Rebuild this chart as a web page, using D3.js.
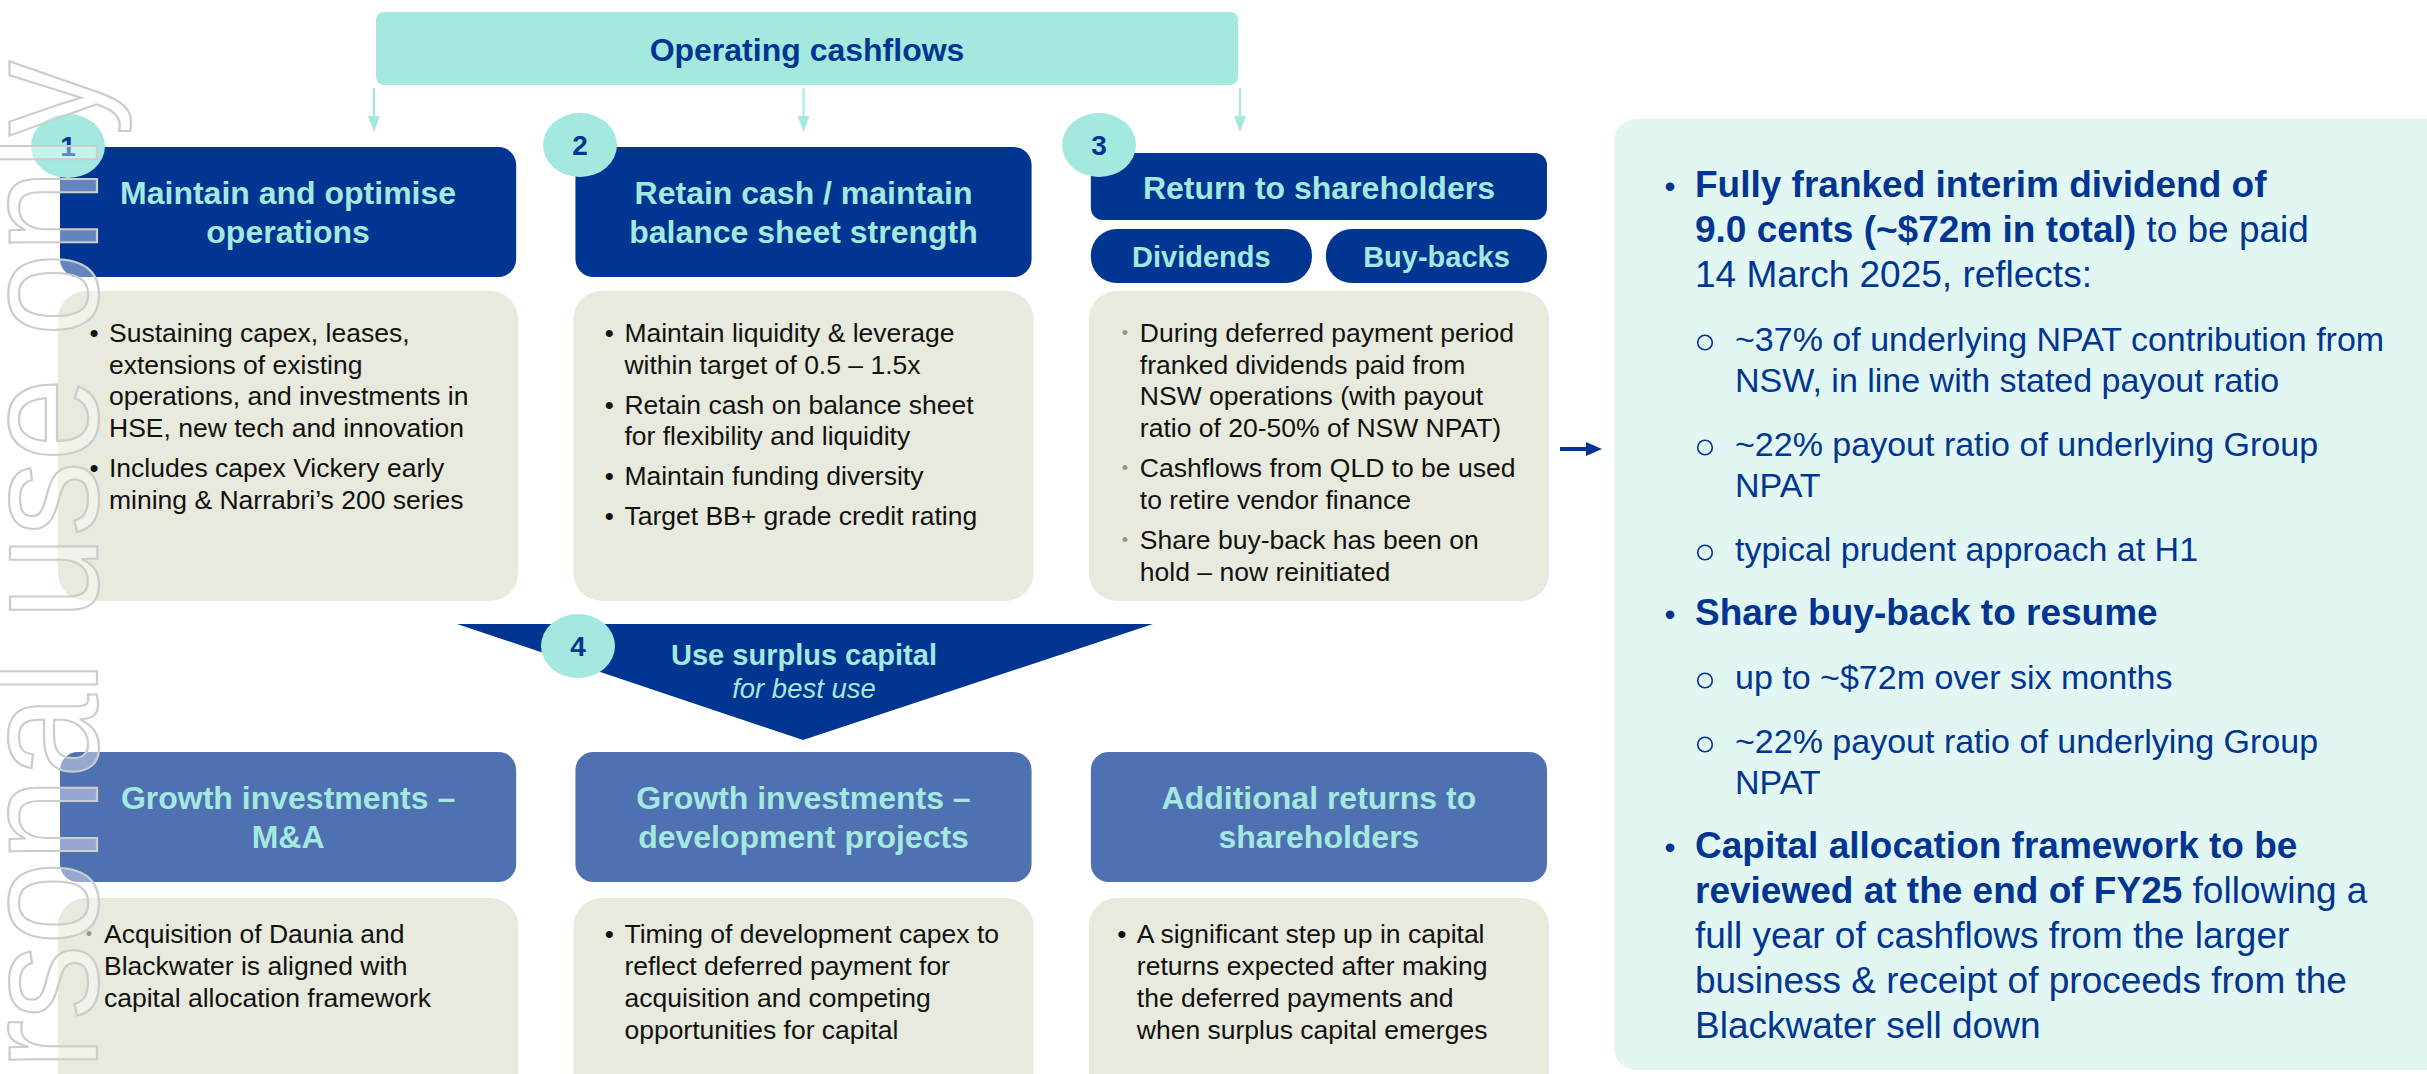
<!DOCTYPE html>
<html>
<head>
<meta charset="utf-8">
<script src="https://cdn.jsdelivr.net/npm/d3@7"></script>
<style>
  body { margin: 0; background: #fff; }
  svg { display: block; font-family: "Liberation Sans", Arial, Helvetica, sans-serif; }
</style>
</head>
<body>
<div id="chart"></div>
<script>
// ---- content ----
const sourceLabel = "Operating cashflows";
const stepNumbers = ["1", "2", "3", "4"];
const pillarTitles = [
  ["Maintain and optimise", "operations"],
  ["Retain cash / maintain", "balance sheet strength"],
  ["Return to shareholders"]
];
const returnTypes = ["Dividends", "Buy-backs"];
const pillarBullets = [
  [["Sustaining capex, leases,", "extensions of existing", "operations, and investments in", "HSE, new tech and innovation"],
   ["Includes capex Vickery early", "mining & Narrabri’s 200 series"]],
  [["Maintain liquidity & leverage", "within target of 0.5 – 1.5x"],
   ["Retain cash on balance sheet", "for flexibility and liquidity"],
   ["Maintain funding diversity"],
   ["Target BB+ grade credit rating"]],
  [["During deferred payment period", "franked dividends paid from", "NSW operations (with payout", "ratio of 20-50% of NSW NPAT)"],
   ["Cashflows from QLD to be used", "to retire vendor finance"],
   ["Share buy-back has been on", "hold – now reinitiated"]]
];
const surplusLabel = ["Use surplus capital", "for best use"];
const growthTitles = [
  ["Growth investments –", "M&A"],
  ["Growth investments –", "development projects"],
  ["Additional returns to", "shareholders"]
];
const growthBullets = [
  [["Acquisition of Daunia and", "Blackwater is aligned with", "capital allocation framework"]],
  [["Timing of development capex to", "reflect deferred payment for", "acquisition and competing", "opportunities for capital"]],
  [["A significant step up in capital", "returns expected after making", "the deferred payments and", "when surplus capital emerges"]]
];
// right hand summary, level 0 = main point, 1 = sub point; **text** is bold
const summaryLevels = [0, 1, 1, 1, 0, 1, 1, 0];
const summaryText = [
  ["**Fully franked interim dividend of**", "**9.0 cents (~$72m in total)** to be paid", "14 March 2025, reflects:"],
  ["~37% of underlying NPAT contribution from", "NSW, in line with stated payout ratio"],
  ["~22% payout ratio of underlying Group", "NPAT"],
  ["typical prudent approach at H1"],
  ["**Share buy-back to resume**"],
  ["up to ~$72m over six months"],
  ["~22% payout ratio of underlying Group", "NPAT"],
  ["**Capital allocation framework to be**", "**reviewed at the end of FY25** following a", "full year of cashflows from the larger", "business & receipt of proceeds from the", "Blackwater sell down"]
];
const watermark = "For personal use only";

// ---- styles ----
const navy = "#003591", teal = "#a3e9df", midBlue = "#4f70b1",
      stone = "#e8eadd", mint = "#e2f7f3", ink = "#111111", softDot = "#8e9a80";
const softBullets = [[false, false, true], [true, false, false]];

const W = 2427, H = 1074;
const svg = d3.select("#chart").append("svg").attr("width", W).attr("height", H);

// three columns
const x = d3.scaleBand().domain(d3.range(3)).range([60, 1547]).paddingInner(0.115);
const bw = x.bandwidth();
const cx = i => x(i) + bw / 2;

// helper for text with **bold** parts
function rich(sel, str) {
  str.split("**").forEach((seg, i) => {
    if (seg) sel.append("tspan").attr("font-weight", i % 2 ? "bold" : "normal").text(seg);
  });
}

function titleLines(g, lines, xc, yMid, size, color) {
  const step = size * 1.22;
  const y0 = yMid - (lines.length - 1) * step / 2 + size * 0.36;
  g.selectAll(null).data(lines).enter().append("text")
    .attr("x", xc).attr("y", (d, i) => y0 + i * step)
    .attr("text-anchor", "middle").attr("font-size", size).attr("font-weight", "bold")
    .attr("fill", color).text(d => d);
}

function bulletBlock(g, groups, x0, y0, lineStep, groupStep, textIndent, soft) {
  let y = y0;
  groups.forEach((lines, gi) => {
    if (gi > 0) y += groupStep;
    g.append("text").attr("x", x0 + textIndent - 15).attr("y", y)
      .attr("font-size", soft ? 18 : 26).attr("fill", soft ? softDot : ink)
      .attr("text-anchor", "middle").attr("dy", soft ? -3 : 0).text("•");
    lines.forEach((l, li) => {
      if (li > 0) y += lineStep;
      g.append("text").attr("x", x0 + textIndent).attr("y", y)
        .attr("font-size", 26.5).attr("fill", ink).text(l);
    });
  });
}

// ---- operating cashflows ----
const srcBox = { x0: 376, x1: 1238, y0: 12, y1: 85 };
svg.append("rect").attr("x", srcBox.x0).attr("y", srcBox.y0).attr("width", srcBox.x1 - srcBox.x0)
  .attr("height", srcBox.y1 - srcBox.y0).attr("rx", 8).attr("fill", teal);
svg.append("text").attr("x", (srcBox.x0 + srcBox.x1) / 2).attr("y", 61).attr("text-anchor", "middle")
  .attr("font-size", 32).attr("font-weight", "bold").attr("fill", navy).text(sourceLabel);

const arrowX = [srcBox.x0 - 2, cx(1), srcBox.x1 + 2];
arrowX.forEach(ax => {
  svg.append("line").attr("x1", ax).attr("x2", ax).attr("y1", 88).attr("y2", 120)
    .attr("stroke", teal).attr("stroke-width", 2);
  svg.append("path").attr("d", d3.line()([[ax - 6, 116], [ax + 6, 116], [ax, 132]]))
    .attr("fill", teal);
});

// ---- row 1: pillars ----
const row1 = svg.append("g");
[0, 1].forEach(i => {
  row1.append("rect").attr("x", x(i)).attr("y", 147).attr("width", bw).attr("height", 130)
    .attr("rx", 18).attr("fill", navy);
  titleLines(row1, pillarTitles[i], cx(i), 212, 32, teal);
});
row1.append("rect").attr("x", x(2)).attr("y", 153).attr("width", bw).attr("height", 67)
  .attr("rx", 12).attr("fill", navy);
titleLines(row1, pillarTitles[2], cx(2), 187, 32, teal);

const pillW = (bw - 14) / 2;
returnTypes.forEach((t, j) => {
  const px = x(2) + j * (pillW + 14);
  row1.append("rect").attr("x", px).attr("y", 229).attr("width", pillW).attr("height", 54)
    .attr("rx", 26).attr("fill", navy);
  row1.append("text").attr("x", px + pillW / 2).attr("y", 266.5).attr("text-anchor", "middle")
    .attr("font-size", 29).attr("font-weight", "bold").attr("fill", teal).text(t);
});

pillarBullets.forEach((groups, i) => {
  row1.append("rect").attr("x", x(i) - 2).attr("y", 291).attr("width", bw + 4).attr("height", 310)
    .attr("rx", 28).attr("fill", stone);
  bulletBlock(row1, groups, x(i), 342, 31.7, 40, 49, softBullets[0][i]);
});

// ---- use surplus capital ----
const tri = [[457, 624], [1153, 624], [803, 740]];
svg.append("path").attr("d", d3.line()(tri) + "Z").attr("fill", navy);
svg.append("text").attr("x", 804).attr("y", 665).attr("text-anchor", "middle")
  .attr("font-size", 29).attr("font-weight", "bold").attr("fill", teal).text(surplusLabel[0]);
svg.append("text").attr("x", 804).attr("y", 698).attr("text-anchor", "middle")
  .attr("font-size", 27.5).attr("font-style", "italic").attr("fill", teal).text(surplusLabel[1]);

// ---- row 3: growth ----
const row3 = svg.append("g");
growthTitles.forEach((lines, i) => {
  row3.append("rect").attr("x", x(i)).attr("y", 752).attr("width", bw).attr("height", 130)
    .attr("rx", 18).attr("fill", midBlue);
  titleLines(row3, lines, cx(i), 817, 32, teal);
});
const growthIndent = [44, 49, 46];
growthBullets.forEach((groups, i) => {
  row3.append("rect").attr("x", x(i) - 2).attr("y", 898).attr("width", bw + 4).attr("height", 220)
    .attr("rx", 28).attr("fill", stone);
  bulletBlock(row3, groups, x(i), 943, 32, 40, growthIndent[i], softBullets[1][i]);
});

// ---- step numbers ----
const stepPos = [[68, 146], [580, 145], [1099, 145], [578, 646]];
stepNumbers.forEach((n, i) => {
  svg.append("ellipse").attr("cx", stepPos[i][0]).attr("cy", stepPos[i][1])
    .attr("rx", 37).attr("ry", 32).attr("fill", teal);
  svg.append("text").attr("x", stepPos[i][0]).attr("y", stepPos[i][1] + 10)
    .attr("text-anchor", "middle").attr("font-size", 28).attr("font-weight", "bold")
    .attr("fill", navy).text(n);
});

// ---- arrow to summary ----
svg.append("line").attr("x1", 1560).attr("x2", 1590).attr("y1", 449).attr("y2", 449)
  .attr("stroke", navy).attr("stroke-width", 4);
svg.append("path").attr("d", d3.line()([[1586, 442], [1602, 449], [1586, 456]]) + "Z").attr("fill", navy);

// ---- summary panel ----
svg.append("rect").attr("x", 1614).attr("y", 119).attr("width", 840).attr("height", 951)
  .attr("rx", 22).attr("fill", mint);
const sum = svg.append("g").attr("fill", navy);
let sy = 197;
summaryText.forEach((lines, k) => {
  const lvl = summaryLevels[k];
  if (k > 0) sy += 64;
  const size = lvl === 0 ? 37 : 34;
  const step = lvl === 0 ? 45 : 41;
  if (lvl === 0) {
    sum.append("text").attr("x", 1670).attr("y", sy).attr("text-anchor", "middle")
      .attr("font-size", 30).attr("font-weight", "bold").text("•");
  } else {
    // hollow sub-bullet
    sum.append("circle").attr("cx", 1705).attr("cy", sy - 8.5).attr("r", 7.3)
      .attr("fill", "none").attr("stroke", navy).attr("stroke-width", 1.6);
  }
  lines.forEach((l, li) => {
    if (li > 0) sy += step;
    const t = sum.append("text").attr("x", lvl === 0 ? 1695 : 1735).attr("y", sy)
      .attr("font-size", size);
    rich(t, l);
  });
});

// ---- watermark ----
svg.append("text")
  .attr("transform", "translate(97,61) rotate(-90) scale(1,1.1)")
  .attr("text-anchor", "end").attr("font-size", 150)
  .attr("fill", "rgba(255,255,255,0.4)").attr("stroke", "#cccccc").attr("stroke-width", 2)
  .text(watermark);
</script>
</body>
</html>
